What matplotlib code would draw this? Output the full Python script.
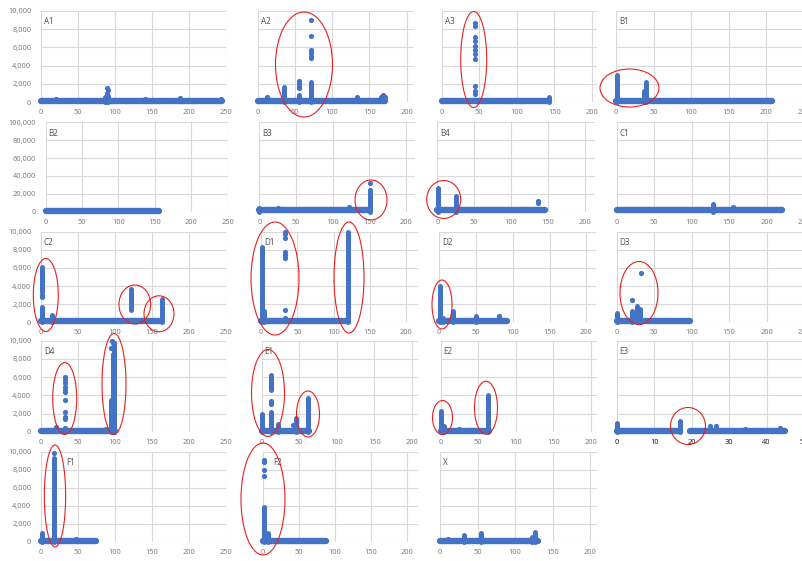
import matplotlib.pyplot as plt
from matplotlib.patches import Ellipse
from matplotlib.ticker import StrMethodFormatter, MultipleLocator

W, H = 803, 561
BLUE = "#4472C4"

NAMES = ["A1", "A2", "A3", "B1",
         "B2", "B3", "B4", "C1",
         "C2", "D1", "D2", "D3",
         "D4", "E1", "E2", "E3",
         "F1", "F2", "X"]

YMAX = [10000, 10000, 10000, 10000,
        100000, 100000, 100000, 100000,
        10000, 10000, 10000, 10000,
        10000, 10000, 10000, 10000,
        10000, 10000, 10000]
XMAX = [250, 210, 207, 250,
        250, 212, 214, 250,
        250, 216, 213, 250,
        250, 208, 208, 50,
        250, 215, 209]

# dense run of points along the bottom: (x from, x to, y)
BASE = [
    [(0, 245, 100)],
    [(0, 171, 100)],
    [(0, 142, 100)],
    [(0, 208, 100)],
    [(0, 156, 1000)],
    [(0, 150, 1500)],
    [(0, 146, 1500)],
    [(0, 221, 1500)],
    [(0, 163, 100)],
    [(0, 120, 100)],
    [(0, 92, 100)],
    [(0, 98, 100)],
    [(0, 100, 100)],
    [(0, 63, 100)],
    [(0, 64, 100)],
    [(0, 17, 100), (19.5, 45, 100)],
    [(0, 74, 100)],
    [(0, 88, 100)],
    [(0, 131, 100)],
]

# dense vertical stacks of points: (x, y from, y to)
COLS = [
    [(87, 0, 600), (89, 0, 1000), (91, 0, 700)],
    [(35, 0, 1600), (56, 0, 800), (72, 0, 2200)],
    [(143, 0, 550)],
    [(1, 0, 3000), (37, 0, 1200), (40, 0, 2200)],
    [],
    [(0, 0, 3800), (151, 0, 22400)],
    [(1, 0, 26000), (25, 0, 17500)],
    [(128, 0, 8600)],
    [(1, 0, 1700), (1, 3300, 6100), (15, 0, 800), (122, 1400, 3700), (164, 0, 2600)],
    [(1, 0, 8300), (4, 0, 1300), (120, 0, 10000)],
    [(1, 0, 4000), (5, 0, 500), (19, 0, 1200), (50, 0, 700)],
    [(0, 0, 1000), (21, 0, 1250), (27, 0, 1800), (31, 0, 1500)],
    [(95, 0, 3500), (97, 0, 8500), (99, 0, 9500)],
    [(1, 0, 2000), (13, 0, 2200), (13, 4600, 6200), (22, 0, 900), (45, 0, 1550), (62, 0, 3700)],
    [(1, 0, 2300), (5, 0, 600), (63, 0, 4000)],
    [(0, 0, 1000), (16.8, 0, 1150)],
    [(1, 0, 1000), (18, 0, 9300)],
    [(2, 0, 3900), (8, 0, 1000)],
    [(32, 0, 800), (54, 0, 1000), (123, 0, 500), (127, 0, 1100)],
]

# single points: (x, y)
DOTS = [
    [(89, 1550), (90, 1300), (20, 300), (140, 300), (188, 400), (243, 350)],
    [(72, 9000), (72, 7300), (72, 5700), (72, 5350), (72, 5050), (72, 4800),
     (56, 2300), (56, 2050), (56, 1800), (56, 1550), (12, 580), (133, 500),
     (166, 600), (169, 770), (171, 500)],
    [(45, 8650), (45, 8350), (45, 7100), (45, 6650), (45, 6150), (45, 5700),
     (45, 5250), (45, 4700), (45, 1750), (45, 1250), (45, 900)],
    [(150, 250)],
    [(32, 2000)],
    [(151, 32500), (151, 24500), (26, 4500), (72, 3000), (85, 3500), (122, 5500), (124, 3500)],
    [(136, 11500), (136, 10000), (45, 3500), (47, 2500), (85, 2000), (97, 3000)],
    [(155, 5600), (155, 4500), (40, 3000), (105, 3000), (110, 2500)],
    [(1, 3000), (1, 2800), (1, 1500), (75, 300)],
    [(33, 10000), (33, 9700), (33, 9300), (33, 7800), (33, 7450), (33, 7100),
     (33, 1350), (33, 500)],
    [(82, 750)],
    [(33, 5400), (21, 2450)],
    [(33, 6040), (33, 5680), (33, 5310), (33, 4950), (33, 4580), (33, 4320),
     (33, 3480), (33, 2200), (33, 1650), (33, 1400), (33, 370),
     (96, 10000), (97, 9800), (99, 9700), (95, 9200), (20, 500), (88, 300)],
    [(13, 3400), (13, 3200), (13, 3000), (42, 700)],
    [(25, 250)],
    [(24.9, 660), (26.5, 660), (34.2, 330), (43.5, 440)],
    [(18, 9900), (47, 350)],
    [(2, 9100), (2, 8900), (2, 8000), (2, 7300)],
    [(10, 250)],
]

# layout in pixels
LEFT = [41, 257.7, 441.7, 616,
        45.7, 259.3, 437.3, 616.7,
        41, 261, 439, 616.7,
        41, 261.7, 440.7, 616.7,
        41, 262.7, 440]
RIGHT = [226, 414, 597, 804,
         227.7, 415, 595, 804,
         226, 418, 596, 804,
         226, 418, 597, 804,
         226, 418, 597]
ROW_TOP = [11, 122.3, 231.7, 340.7, 451.7]
ROW_ZERO = [102, 211.7, 322.3, 431.7, 541.7]
LABEL_DX = [3, 3, 3, 3,
            3, 3, 3, 3,
            3, 3, 3, 3,
            3, 3, 3, 3,
            25, 11, 3]

ELLIPSES = [(304, 64.5, 57, 105), (473.7, 59.5, 26, 96), (629.5, 88, 59, 38),
            (371, 200, 32, 40), (443.7, 199.5, 34, 38),
            (45.8, 295, 25, 73), (134.8, 304.5, 31.7, 39), (159, 313.8, 30, 36),
            (275, 278.5, 48, 113), (349, 277.5, 30, 111), (442, 304.5, 20, 49),
            (639, 293, 38, 63),
            (64.7, 398.5, 24, 72), (114, 384, 24, 101), (268, 393, 33, 87),
            (308, 414, 23, 46), (442.5, 417.5, 20, 34), (486, 407.7, 23, 53),
            (688, 426, 35, 37),
            (55, 496, 21.3, 102), (263, 499, 44, 112)]

plt.rcParams['font.family'] = ['Noto Sans', 'DejaVu Sans']

fig = plt.figure(figsize=(W / 100, H / 100), dpi=100)
fig.patch.set_facecolor('white')

for i, name in enumerate(NAMES):
    r, c = divmod(i, 4)
    left, right = LEFT[i], RIGHT[i]
    top, zero = ROW_TOP[r], ROW_ZERO[r]
    ax = fig.add_axes([left / W, 1 - zero / H, (right - left) / W, (zero - top) / H])
    ax.set_xlim(0, XMAX[i])
    ax.set_ylim(0, YMAX[i])
    ax.xaxis.set_major_locator(MultipleLocator(10 if XMAX[i] == 50 else 50))
    ax.yaxis.set_major_locator(MultipleLocator(YMAX[i] / 5))
    ax.yaxis.set_major_formatter(StrMethodFormatter('{x:,.0f}'))
    for s in ax.spines.values():
        s.set_visible(False)
    ax.grid(True, color='#d9d9d9', lw=0.8)
    ax.set_axisbelow(True)
    ax.tick_params(length=0, labelsize=5.3, colors='#7f7f7f', pad=5)
    ax.tick_params(axis='y', pad=7)
    if c > 0:
        ax.tick_params(labelleft=False)
    if name == "E3":
        ax.tick_params(axis='x', colors='#222222')
        for t in ax.get_xticklabels():
            t.set_fontweight('bold')

    for x0, x1, y in BASE[i]:
        ax.plot([x0, x1], [y, y], color=BLUE, lw=4.6, solid_capstyle='round',
                clip_on=False, zorder=3)
    for x, y0, y1 in COLS[i]:
        ax.plot([x, x], [y0, y1], color=BLUE, lw=3.6, solid_capstyle='round',
                clip_on=False, zorder=3)
    if DOTS[i]:
        xs = [p[0] for p in DOTS[i]]
        ys = [p[1] for p in DOTS[i]]
        ax.scatter(xs, ys, s=14, color=BLUE, linewidths=0, clip_on=False, zorder=4)

    ax.annotate(name, xy=(0, 1), xycoords='axes fraction',
                xytext=(LABEL_DX[i], -11), textcoords='offset pixels',
                ha='left', va='center', fontsize=5.8, color='#595959')

# red marks drawn over the panels
over = fig.add_axes([0, 0, 1, 1])
over.set_xlim(0, W)
over.set_ylim(H, 0)
over.axis('off')
over.patch.set_alpha(0)
for cx, cy, w, h in ELLIPSES:
    over.add_patch(Ellipse((cx, cy), w, h, fill=False, ec='#e8201e', lw=0.8))

fig.savefig('out.png', dpi=100)
